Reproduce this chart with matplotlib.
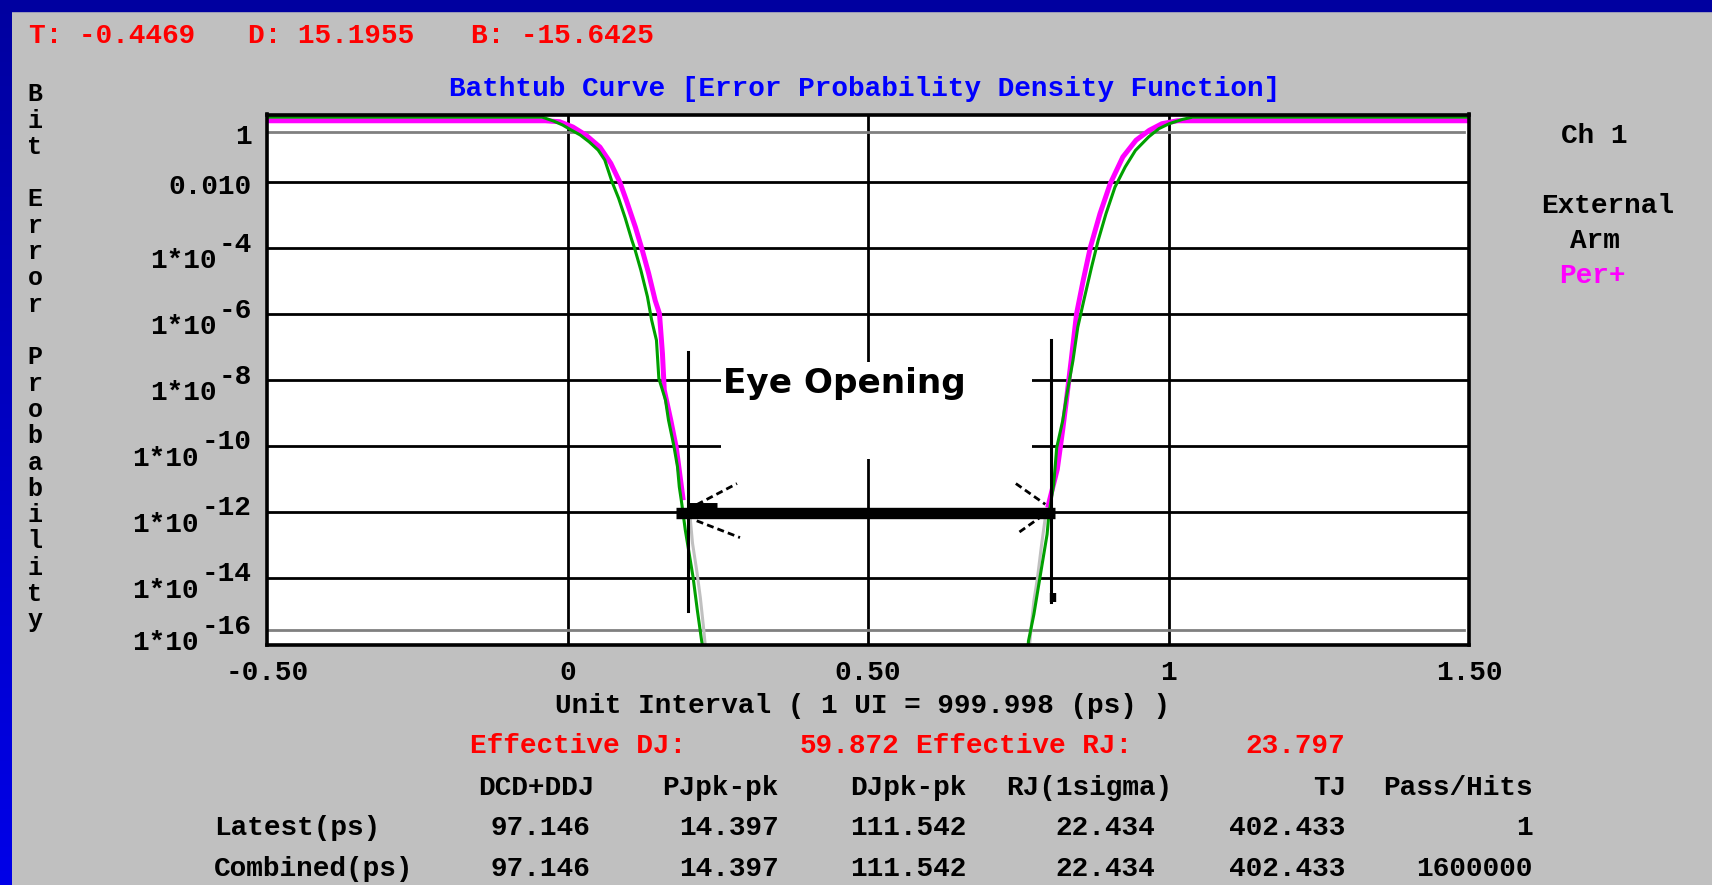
import numpy as np
import matplotlib
matplotlib.use("Agg")
import matplotlib.pyplot as plt
from matplotlib.colors import LinearSegmentedColormap
from matplotlib.patches import Rectangle

W, H = 1712, 885
FONT = "Liberation Mono"

# Badewannenkurve: x in UI, y als Exponent e (BER = 10**-e)
left_green_ui = [-0.50, -0.042, -0.023, -0.008, 0.006, 0.021, 0.036, 0.051, 0.062, 0.074,
                 0.085, 0.096, 0.107, 0.112, 0.122, 0.133, 0.140, 0.148, 0.152, 0.163,
                 0.168, 0.177, 0.183, 0.186, 0.190, 0.196, 0.209, 0.216, 0.223, 0.226]
left_green_exp = [0.02, 0.02, 0.14, 0.26, 0.41, 0.56, 0.77, 1.02, 1.32, 1.98,
                  2.48, 3.08, 3.75, 4.02, 4.66, 5.47, 6.18, 6.79, 7.95, 8.60,
                  9.21, 10.0, 10.63, 11.24, 11.73, 12.55, 13.99, 14.98, 15.89, 16.2]

left_magenta_ui = [-0.50, -0.037, -0.013, 0.009, 0.031, 0.054, 0.072, 0.087, 0.098, 0.113,
                   0.124, 0.135, 0.146, 0.153, 0.158, 0.161, 0.172, 0.181, 0.192]
left_magenta_exp = [0.13, 0.13, 0.16, 0.32, 0.57, 0.93, 1.42, 1.99, 2.55, 3.36,
                    4.03, 4.76, 5.59, 5.98, 7.20, 8.30, 9.23, 10.05, 11.57]

left_grey_ui = [0.204, 0.208, 0.215, 0.221, 0.226, 0.230]
left_grey_exp = [12.15, 12.95, 13.78, 14.60, 15.45, 16.2]

right_green_ui = [0.766, 0.767, 0.776, 0.786, 0.798, 0.801, 0.809, 0.814, 0.824, 0.830,
                  0.841, 0.849, 0.859, 0.872, 0.883, 0.896, 0.911, 0.928, 0.945, 0.967,
                  0.984, 1.001, 1.023, 1.040, 1.50]
right_green_exp = [16.2, 15.92, 15.11, 14.0, 12.68, 12.07, 11.16, 10.05, 9.23, 8.53,
                   7.41, 6.40, 5.59, 4.57, 3.76, 2.95, 2.14, 1.53, 1.03, 0.62,
                   0.37, 0.22, 0.09, 0.02, 0.02]

right_magenta_ui = [0.800, 0.815, 0.824, 0.830, 0.838, 0.847, 0.858, 0.870, 0.886, 0.903,
                    0.924, 0.946, 0.968, 0.989, 1.015, 1.50]
right_magenta_exp = [11.8, 10.7, 9.5, 8.63, 7.41, 5.99, 4.98, 3.97, 2.95, 2.04,
                     1.23, 0.72, 0.42, 0.22, 0.13, 0.13]

right_grey_ui = [0.795, 0.789, 0.782, 0.776, 0.772, 0.768]
right_grey_exp = [12.17, 12.97, 14.0, 14.7, 15.4, 16.2]

grid_ui = [0, 0.5, 1]
grid_exp = [2, 4, 6, 8, 10, 12, 14]
ref_exp = [0.47, 15.59]

xtick_vals = [-0.5, 0, 0.5, 1, 1.5]
xtick_text = ["-0.50", "0", "0.50", "1", "1.50"]
ytick_exp = [0.47, 2, 4, 6, 8, 10, 12, 14, 15.59]
ytick_base = ["1", "0.010", "1*10", "1*10", "1*10", "1*10", "1*10", "1*10", "1*10"]
ytick_sup = ["", "", "-4", "-6", "-8", "-10", "-12", "-14", "-16"]

# Augenoeffnung
eye_left, eye_right, eye_level = 0.181, 0.811, 12.02
eye_box_ui = [0.255, 0.773]
eye_box_exp = [7.45, 10.40]
eye_text_pos = (0.4606, 8.39)
marker_left_ui, marker_left_exp = 0.201, [7.14, 15.0]
marker_right_ui, marker_right_exp = 0.805, [6.77, 14.73]
head_lines = [([0.215, 0.282], [11.78, 11.14]),
              ([0.215, 0.287], [12.27, 12.78]),
              ([0.746, 0.795], [11.14, 11.77]),
              ([0.752, 0.786], [12.61, 12.17])]

readout = [("T: -0.4469", 29), ("D: 15.1955", 248), ("B: -15.6425", 471)]
legend_lines = [("Ch 1", 1594, 142.7, "black"), ("External", 1608, 212.7, "black"),
                ("Arm", 1595, 247.7, "black"), ("Per+", 1592, 282.7, "#FF00FF")]

eff_dj, eff_rj = "59.872", "23.797"
header = ["DCD+DDJ", "PJpk-pk", "DJpk-pk", "RJ(1sigma)", "TJ", "Pass/Hits"]
row_names = ["Latest(ps)", "Combined(ps)"]
latest = ["97.146", "14.397", "111.542", "22.434", "402.433", "1"]
combined = ["97.146", "14.397", "111.542", "22.434", "402.433", "1600000"]
header_right = [595, 779, 967, 1172, 1346, 1533]
value_right = [590, 779, 967, 1155, 1345, 1533]


def ber(exps):
    return [10.0 ** -e for e in exps]


fig = plt.figure(figsize=(W / 100, H / 100), dpi=100, facecolor="#C0C0C0")

# Hintergrund in Pixelkoordinaten
bg = fig.add_axes([0, 0, 1, 1])
bg.axis("off")
cmap = LinearSegmentedColormap.from_list("blau", ["#0000A0", "#0000E8"])
bg.imshow(np.linspace(0, 1, 256).reshape(-1, 1), extent=[0, 12, H, 0], aspect="auto", cmap=cmap)
bg.add_patch(Rectangle((0, 0), W, 11, color="#0000A0"))
bg.set_xlim(0, W)
bg.set_ylim(H, 0)


def txt(x, y, s, color="black", ha="left", size=20, **kw):
    bg.text(x, y, s, ha=ha, va="baseline", color=color, fontsize=size,
            family=FONT, weight="bold", **kw)


for s, x in readout:
    txt(x, 43, s, color="#FF0000")
txt(864.5, 95.7, "Bathtub Curve [Error Probability Density Function]", color="#0000FF", ha="center")

for k, ch in enumerate("Bit Error Probability"):
    if ch != " ":
        txt(35, 101.3 + k * 26.3, ch, ha="center", size=18)

for s, x, y, c in legend_lines:
    txt(x, y, s, color=c, ha="center")

txt(863, 712.7, "Unit Interval ( 1 UI = 999.998 (ps) )", ha="center")
txt(470, 753.3, "Effective DJ:", color="#FF0000")
txt(899, 753.3, eff_dj, color="#FF0000", ha="right")
txt(916, 753.3, "Effective RJ:", color="#FF0000")
txt(1345.6, 753.3, eff_rj, color="#FF0000", ha="right")

for h, xr in zip(header, header_right):
    txt(xr, 795, h, ha="right")
for name, row, yb in zip(row_names, [latest, combined], [835, 875.7]):
    txt(214, yb, name)
    for v, xr in zip(row, value_right):
        txt(xr, yb, v, ha="right")

# Diagramm
ax = fig.add_axes([267 / W, 1 - 644.7 / H, 1202 / W, 530.2 / H], facecolor="white")
ax.set_yscale("log")
ax.set_xlim(-0.5, 1.5)
ax.set_ylim(10 ** -16.03, 10 ** 0.06)
ax.tick_params(which="both", left=False, bottom=False, labelleft=False, labelbottom=False)
for sp in ax.spines.values():
    sp.set_linewidth(2.6)
    sp.set_zorder(6)

for e in grid_exp:
    ax.axhline(10.0 ** -e, color="black", lw=2.0, zorder=1)
for u in grid_ui:
    ax.axvline(u, color="black", lw=2.0, zorder=1)
for e in ref_exp:
    ax.axhline(10.0 ** -e, xmax=0.996, color="#808080", lw=2.0, zorder=1.5)

ax.fill_between(eye_box_ui, 10.0 ** -eye_box_exp[1], 10.0 ** -eye_box_exp[0],
                color="white", lw=0, zorder=2)

ax.plot(left_magenta_ui, ber(left_magenta_exp), color="#FF00FF", lw=3.6, zorder=3)
ax.plot(right_magenta_ui, ber(right_magenta_exp), color="#FF00FF", lw=3.6, zorder=3)
ax.plot(left_grey_ui, ber(left_grey_exp), color="#C0C0C0", lw=2.2, zorder=3)
ax.plot(right_grey_ui, ber(right_grey_exp), color="#C0C0C0", lw=2.2, zorder=3)
ax.plot(left_green_ui, ber(left_green_exp), color="#00A000", lw=2.2, zorder=4)
ax.plot(right_green_ui, ber(right_green_exp), color="#00A000", lw=2.2, zorder=4)

# Augenoeffnung: Pfeil, Marker, Text
ax.plot([eye_left, eye_right], ber([eye_level, eye_level]), color="black", lw=8.2,
        solid_capstyle="butt", zorder=5)
ax.plot([0.199, 0.248], ber([11.82, 11.82]), color="black", lw=5.0, solid_capstyle="butt", zorder=5)
ax.plot([marker_left_ui] * 2, ber(marker_left_exp), color="black", lw=2.2, zorder=5)
ax.plot([marker_right_ui] * 2, ber(marker_right_exp), color="black", lw=2.2, zorder=5)
ax.plot([marker_right_ui + 0.002] * 2, ber([14.46, 14.73]), color="black", lw=4.6,
        solid_capstyle="butt", zorder=5)
for xs, es in head_lines:
    ax.plot(xs, ber(es), color="black", lw=2.0, ls=(0, (2.5, 1.5)), zorder=5)
ax.text(eye_text_pos[0], 10.0 ** -eye_text_pos[1], "Eye Opening", ha="center", va="baseline",
        fontsize=24.7, family="DejaVu Sans", weight="bold", zorder=5)

# Achsbeschriftungen
for v, t in zip(xtick_vals, xtick_text):
    ax.annotate(t, xy=(v, 0), xycoords=("data", "axes fraction"), xytext=(0, -35.3),
                textcoords="offset pixels", ha="center", va="baseline", fontsize=20,
                family=FONT, weight="bold", annotation_clip=False)

for e, base, sup in zip(ytick_exp, ytick_base, ytick_sup):
    v = 10.0 ** -e
    kw = dict(xycoords=("axes fraction", "data"), textcoords="offset pixels", ha="right",
              va="baseline", fontsize=20, family=FONT, weight="bold", annotation_clip=False)
    if sup:
        ax.annotate(sup, xy=(0, v), xytext=(-15, -3.5), **kw)
        ax.annotate(base, xy=(0, v), xytext=(-15 - 17.8 * len(sup), -20), **kw)
    else:
        ax.annotate(base, xy=(0, v), xytext=(-15, -12), **kw)

fig.savefig("out.png", dpi=100, facecolor=fig.get_facecolor())
